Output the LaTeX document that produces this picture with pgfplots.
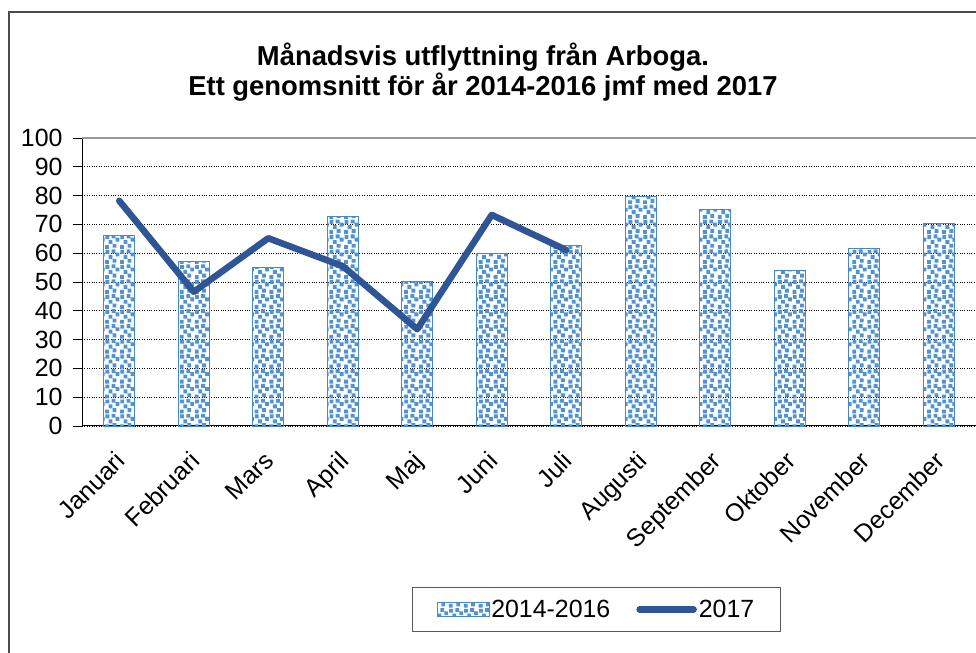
\documentclass[border=0pt]{standalone}
\usepackage{pgfplots}
\pgfplotsset{compat=1.18}
\usepackage{fontspec}
\setmainfont{Liberation Sans}
\usetikzlibrary{patterns}
\definecolor{barblue}{RGB}{80,146,212}
\definecolor{baredge}{RGB}{70,135,205}
\definecolor{linecol}{RGB}{47,85,151}
\pgfdeclarepatternformonly{bluesquares}{\pgfqpoint{-1pt}{-1pt}}{\pgfqpoint{16pt}{16pt}}{\pgfqpoint{15pt}{15pt}}{%
  \pgfpathrectangle{\pgfqpoint{0.5pt}{0.5pt}}{\pgfqpoint{3.9pt}{3.9pt}}%
  \pgfpathrectangle{\pgfqpoint{8pt}{1.8pt}}{\pgfqpoint{3.9pt}{3.9pt}}%
  \pgfpathrectangle{\pgfqpoint{4pt}{5.6pt}}{\pgfqpoint{3.9pt}{3.9pt}}%
  \pgfpathrectangle{\pgfqpoint{11pt}{8pt}}{\pgfqpoint{3.9pt}{3.9pt}}%
  \pgfpathrectangle{\pgfqpoint{0.8pt}{10.5pt}}{\pgfqpoint{3.9pt}{3.9pt}}%
  \pgfpathrectangle{\pgfqpoint{7pt}{11.2pt}}{\pgfqpoint{3.9pt}{3.9pt}}%
  \pgfusepath{fill}}
\begin{document}
\begin{tikzpicture}
\useasboundingbox (0,0) rectangle (976bp,653bp);
\fill[white] (0,0) rectangle (976bp,653bp);
\draw[gray!60!black, line width=1.2bp] (9bp,-20bp) -- (9bp,641bp) -- (1000bp,641bp);
\node[font=\fontsize{27.5}{30.5}\selectfont\bfseries, align=center] at (483bp,581bp)
  {Månadsvis utflyttning från Arboga.\\Ett genomsnitt för år 2014-2016 jmf med 2017};
\begin{axis}[
  at={(82bp,227bp)}, anchor=south west,
  scale only axis, width=894bp, height=288bp,
  xmin=-0.5, xmax=11.5, ymin=0, ymax=100,
  axis lines=left, axis line style={-, black, line width=1bp},
  ytick={0,10,...,100},
  ymajorgrids, major grid style={black, dotted, line width=0.7bp},
  ytick pos=left, tick align=outside, major tick length=9bp,
  xtick={0,...,11},
  xticklabels={Januari,Februari,Mars,April,Maj,Juni,Juli,Augusti,September,Oktober,November,December},
  xtick style={draw=none},
  minor xtick={-0.5,0.5,...,11.5},
  minor tick length=16bp,
  every tick/.style={black, line width=0.8bp},
  xticklabel style={rotate=45, anchor=north east, xshift=-11bp, yshift=-3.5bp},
  /pgf/number format/assume math mode=true,
  tick label style={font=\fontsize{25}{28}\selectfont},
  yticklabel style={xshift=-7bp},
  legend style={at={(0.5755,-0.637)}, anchor=center, draw=gray!70!black, line width=0.8bp,
    font=\fontsize{25}{28}\selectfont, inner xsep=24bp, inner ysep=11bp,
    /tikz/every even column/.append style={column sep=24bp}},
  legend columns=2,
  clip=false,
]
\addplot[ybar, bar width=31bp, bar shift=0pt, draw=baredge, line width=0.9bp,
  pattern=bluesquares, pattern color=barblue,
  legend image code/.code={\draw[draw=baredge, line width=0.5bp, pattern=bluesquares, pattern color=barblue] (0bp,-7bp) rectangle (52bp,7bp);}]
  coordinates {(0,66) (1,57) (2,55) (3,72.67) (4,50.33) (5,60) (6,62.67) (7,79.67) (8,75.33) (9,54) (10,61.67) (11,70.33)};
\addlegendentry{2014-2016}
\addplot[linecol, line width=6.5bp, line join=round, line cap=round, mark=none,
  legend image code/.code={\draw[linecol, line width=6.5bp, line cap=round] (3bp,0bp) -- (57bp,0bp);}]
  coordinates {(0,78.2) (1,46.6) (2,65.2) (3,55.5) (4,33.6) (5,73.3) (6,61.1)};
\addlegendentry{2017}
\draw[gray!80, line width=1.6bp] (rel axis cs:0,1) -- (rel axis cs:1,1);
\end{axis}
\end{tikzpicture}
\end{document}
